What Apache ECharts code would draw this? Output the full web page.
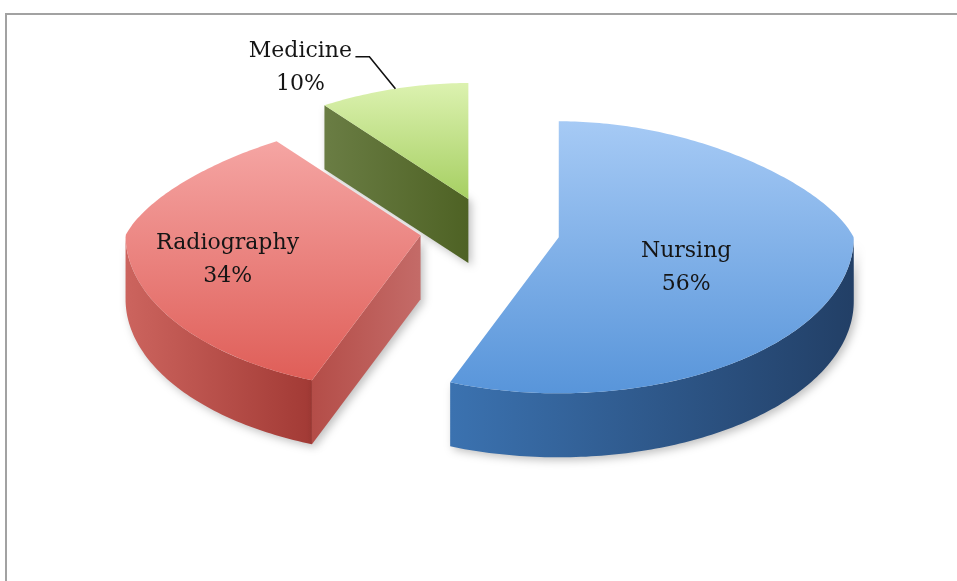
<!DOCTYPE html>
<html>
<head>
<meta charset="utf-8">
<script src="https://cdn.jsdelivr.net/npm/echarts@6/dist/echarts.min.js"></script>
<style>
  html, body { margin: 0; padding: 0; background: #fff; }
  #frame {
    position: absolute; left: 5px; top: 13px; right: 0; bottom: 0;
    border-top: 2px solid #a2a2a2; border-left: 2px solid #a2a2a2;
  }
  #chart { position: absolute; left: 0; top: 0; width: 957px; height: 581px; }
</style>
</head>
<body>
<div id="frame"></div>
<div id="chart"></div>
<script>
  // data
  var categories = ['Nursing', 'Radiography', 'Medicine'];
  var shares = [56, 34, 10];

  // colours per slice: top face, side wall, cut face
  var topColors = [['#a6caf5', '#5895da'], ['#f5a5a3', '#df5e58'], ['#dcf2b0', '#a6cf62']];
  var wallColors = [['#3b72b0', '#223f66'], ['#cc645e', '#a23a35'], ['#6b7f45', '#4c5f22']];
  var cutColors = [['#2d5a8e', '#2a5283'], ['#b44d48', '#c46b68'], ['#6a7d44', '#4e6224']];

  // layout of the 3d pie
  var CX = 490, CY = 231;
  var RX = 295, RY_TOP = 116, RY_BOT = 156;
  var PERSP = 0.21;          // back half looks narrower
  var DEPTH = 64;
  var EXPLODE = 70, EX_RATIO = 0.48;
  var FONT = '"DejaVu Serif", serif';

  var total = shares.reduce(function (a, b) { return a + b; }, 0);

  function rad(d) { return d * Math.PI / 180; }
  function pt(c, deg, k, dy) {
    var t = rad(deg), cs = Math.cos(t);
    var ry = cs > 0 ? RY_TOP : RY_BOT;
    var f = cs > 0 ? 1 - PERSP * cs : 1;
    return [c[0] + RX * k * f * Math.sin(t), c[1] - ry * k * cs + (dy || 0)];
  }
  function arc(c, a, b, dy) {
    var pts = [], n = Math.max(2, Math.ceil(Math.abs(b - a)));
    for (var i = 0; i <= n; i++) pts.push(pt(c, a + (b - a) * i / n, 1, dy));
    return pts;
  }
  function grad(x, cols) {
    return new echarts.graphic.LinearGradient(0, 0, x ? 1 : 0, x ? 0 : 1,
      [{ offset: 0, color: cols[0] }, { offset: 1, color: cols[1] }]);
  }

  function renderItem(params, api) {
    var i = params.dataIndex;
    var before = 0;
    for (var j = 0; j < i; j++) before += shares[j];
    var a = before / total * 360;
    var b = (before + api.value(0)) / total * 360;
    var mid = (a + b) / 2;
    var c = [CX + EXPLODE * Math.sin(rad(mid)), CY - EXPLODE * EX_RATIO * Math.cos(rad(mid))];
    var kids = [];
    var shadow = { shadowBlur: 8, shadowColor: 'rgba(0,0,0,0.25)', shadowOffsetX: 3, shadowOffsetY: 3 };
    var textStyle = { align: 'center', verticalAlign: 'middle', fontSize: 22, lineHeight: 33,
      fontFamily: FONT, fill: '#151515' };

    // outer wall, front half only
    var lo = Math.max(a, 90), hi = Math.min(b, 270);
    if (hi > lo) {
      var pts = arc(c, lo, hi, 0).concat(arc(c, hi, lo, DEPTH));
      kids.push({ type: 'polygon', z2: 1, shape: { points: pts },
        style: Object.assign({ fill: grad(true, wallColors[i]) }, shadow) });
    }
    // cut faces that face the viewer
    [[a, -1], [b, 1]].forEach(function (e) {
      var s = Math.sin(rad(e[0])) * e[1];
      if (s > 0.05) {
        var p = pt(c, e[0], 1, 0);
        var q = [[c[0], c[1]], p, [p[0], p[1] + DEPTH], [c[0], c[1] + DEPTH]];
        kids.push({ type: 'polygon', z2: 1, shape: { points: q },
          style: Object.assign({ fill: grad(true, cutColors[i]) }, shadow) });
      }
    });
    // top face
    var top = [[c[0], c[1]]].concat(arc(c, a, b, 0));
    kids.push({ type: 'polygon', z2: 2, shape: { points: top },
      style: { fill: grad(false, topColors[i]) } });

    // label
    var txt = categories[i] + '\n' + api.value(0) + '%';
    if (api.value(0) / total < 0.15) {
      var o = pt(c, mid, 1, 0);
      var elbow = [o[0] - 26, o[1] - 32];
      var end = [elbow[0] - 14, elbow[1]];
      kids.push({ type: 'polyline', z2: 3, shape: { points: [o, elbow, end] },
        style: { stroke: '#111', lineWidth: 1.6, fill: null } });
      kids.push({ type: 'text', z2: 4, style: Object.assign({ text: txt,
        x: end[0] - 55, y: elbow[1] + 11 }, textStyle) });
    } else {
      var l = pt(c, mid, 0.55, 14);
      kids.push({ type: 'text', z2: 4, style: Object.assign({ text: txt,
        x: l[0] - 32, y: l[1] }, textStyle) });
    }
    return { type: 'group', children: kids };
  }

  var chart = echarts.init(document.getElementById('chart'));
  chart.setOption({
    animation: false,
    series: [{
      type: 'custom',
      coordinateSystem: 'none',
      renderItem: renderItem,
      data: shares.map(function (v, i) { return { name: categories[i], value: [v] }; })
    }]
  });
</script>
</body>
</html>
